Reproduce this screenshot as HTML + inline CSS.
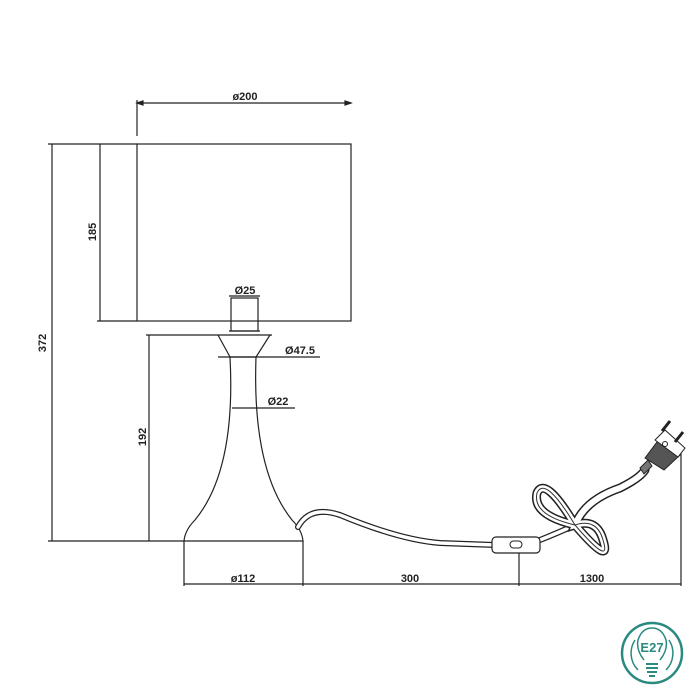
<!DOCTYPE html>
<html><head><style>
html,body{margin:0;padding:0;background:#fff;}
svg{display:block}
text{font-family:"Liberation Sans",Arial,sans-serif;font-weight:bold;fill:#222;}
</style></head><body>
<svg width="700" height="700" viewBox="0 0 700 700" xmlns="http://www.w3.org/2000/svg">
<g stroke="#222" stroke-width="1.2" fill="none">
<rect x="137" y="144" width="214" height="177"/>
<line x1="48" y1="144" x2="137" y2="144"/>
<line x1="97" y1="321" x2="137" y2="321"/>
<line x1="52" y1="144" x2="52" y2="541"/>
<line x1="100" y1="144" x2="100" y2="321"/>
<line x1="137" y1="100" x2="137" y2="136"/>
<line x1="137" y1="103" x2="351" y2="103"/>
<path d="M137 103 l6 -2 v4z M351 103 l-6 -2 v4z" fill="#222"/>
<rect x="231" y="298" width="27" height="33"/>
<line x1="229" y1="331" x2="260" y2="331"/>
<line x1="229" y1="296" x2="260" y2="296"/>
<line x1="229" y1="335" x2="272" y2="335"/>
<line x1="146" y1="335" x2="229" y2="335"/>
<line x1="149" y1="335" x2="149" y2="541"/>
<path d="M218 335 L230 357 Q236 470 195 520 Q185 530 184 541 L303 541 Q302 530 292 520 Q252 470 256 357 L270 335"/>
<line x1="230" y1="357" x2="256" y2="357"/>
<line x1="218" y1="357" x2="320" y2="357"/>
<line x1="232" y1="408" x2="295" y2="408"/>
<line x1="48" y1="541" x2="184" y2="541"/>
<line x1="184" y1="541" x2="184" y2="586"/>
<line x1="303" y1="541" x2="303" y2="586"/>
<line x1="519" y1="548" x2="519" y2="586"/>
<line x1="681" y1="450" x2="681" y2="586"/>
<line x1="184" y1="584" x2="681" y2="584"/>
</g>
<g fill="none" stroke-linecap="round">
<path d="M298 527 Q310 505 340 515 Q400 540 440 543 L495 545 M540 540 Q560 532 575 525" stroke="#222" stroke-width="6"/>
<path d="M298 527 Q310 505 340 515 Q400 540 440 543 L495 545 M540 540 Q560 532 575 525" stroke="#fff" stroke-width="3.5"/>
<path d="M575 525 Q545 475 537 493 Q532 515 575 525 Q612 568 603 540 Q597 518 575 525 Q585 500 620 488 Q640 478 645 470" stroke="#222" stroke-width="9"/>
<path d="M575 525 Q545 475 537 493 Q532 515 575 525 Q612 568 603 540 Q597 518 575 525 Q585 500 620 488 Q640 478 645 470" stroke="#fff" stroke-width="6"/>
<path d="M575 525 Q545 475 537 493 Q532 515 575 525 Q612 568 603 540 Q597 518 575 525" stroke="#333" stroke-width="1"/>
</g>
<rect x="492" y="537" width="48" height="16" rx="4" fill="#fff" stroke="#222" stroke-width="1.2"/>
<rect x="510" y="541" width="12" height="7" rx="3.5" fill="#fff" stroke="#222" stroke-width="1"/>
<g stroke="#222" stroke-width="1" fill="#fff">
<path d="M645 458 L660 438 L680 455 L664 470 Z" fill="#555"/>
<path d="M655 440 L665 430 L685 448 L678 457 Z"/>
<circle cx="665" cy="444" r="2.5"/>
<line x1="662" y1="431" x2="670" y2="421" stroke-width="3"/>
<line x1="675" y1="442" x2="683" y2="432" stroke-width="3"/>
<path d="M640 468 L648 460 L652 466 L644 474Z" fill="#777"/>
</g>
<text x="245" y="100" font-size="11" text-anchor="middle">ø200</text>
<text x="245" y="294" font-size="11" text-anchor="middle">Ø25</text>
<text x="300" y="354" font-size="11" text-anchor="middle">Ø47.5</text>
<text x="278" y="405" font-size="11" text-anchor="middle">Ø22</text>
<text x="243" y="582" font-size="11" text-anchor="middle">ø112</text>
<text x="410" y="582" font-size="11" text-anchor="middle">300</text>
<text x="592" y="582" font-size="11" text-anchor="middle">1300</text>
<text font-size="11" text-anchor="middle" transform="translate(46,343) rotate(-90)">372</text>
<text font-size="11" text-anchor="middle" transform="translate(96,232) rotate(-90)">185</text>
<text font-size="11" text-anchor="middle" transform="translate(146,437) rotate(-90)">192</text>
<g stroke="#2a8a80" fill="none" stroke-width="2.5">
<circle cx="652" cy="653" r="30"/>
<path d="M635 640 A24 24 0 0 0 638 670" stroke-width="1.5"/>
<path d="M669 640 A24 24 0 0 1 666 670" stroke-width="1.5"/>
<path d="M644 660 Q636 650 638 640 Q642 628 652 628 Q662 628 666 640 Q668 650 660 660" stroke-width="1.5"/>
<line x1="646" y1="664" x2="658" y2="664" stroke-width="2"/>
<line x1="646" y1="668" x2="658" y2="668" stroke-width="2"/>
<line x1="647" y1="672" x2="657" y2="672" stroke-width="2"/>
<line x1="649" y1="676" x2="655" y2="676" stroke-width="2"/>
</g>
<text x="652" y="652" font-size="13" text-anchor="middle" style="fill:#2a8a80">E27</text>
</svg>
</body></html>
